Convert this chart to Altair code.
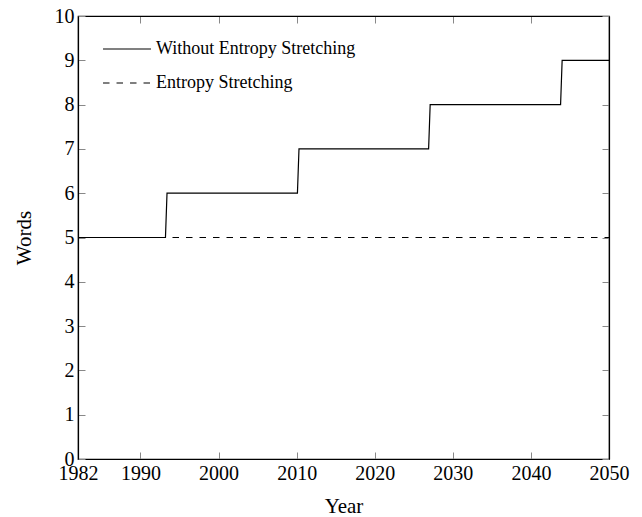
import altair as alt
import pandas as pd

series_names = ["Without Entropy Stretching", "Entropy Stretching"]
years_without = [1982, 1993.2, 1993.4, 2010.1, 2010.3, 2026.9, 2027.1, 2043.8, 2044.0, 2050]
words_without = [5, 5, 6, 6, 7, 7, 8, 8, 9, 9]
years_with = [1982, 2050]
words_with = [5, 5]

x_ticks = [1982, 1990, 2000, 2010, 2020, 2030, 2040, 2050]
y_ticks = list(range(0, 11))

rows = []
for i, (x, y) in enumerate(zip(years_without, words_without)):
    rows.append({"Year": x, "Words": y, "Series": series_names[0], "order": i})
for i, (x, y) in enumerate(zip(years_with, words_with)):
    rows.append({"Year": x, "Words": y, "Series": series_names[1], "order": i})
df = pd.DataFrame(rows)

FONT = "Liberation Serif"
INSIDE = alt.ExprRef(expr="-7")

x_scale = alt.Scale(domain=[1982, 2050], nice=False, zero=False)
y_scale = alt.Scale(domain=[0, 10], nice=False)

legend_args = dict(title=None, orient="none", legendX=24, legendY=8,
                   symbolType="stroke", symbolSize=2300, symbolStrokeWidth=1.2,
                   labelFontSize=18, labelFont=FONT, rowPadding=0,
                   labelLimit=400, labelOffset=4, labelColor="black")

lines = alt.Chart(df).mark_line(strokeWidth=1.2, clip=True).encode(
    x=alt.X("Year:Q", scale=x_scale,
            axis=alt.Axis(values=x_ticks, title="Year", format="d", grid=False,
                          tickSize=INSIDE, labelPadding=11, titlePadding=12)),
    y=alt.Y("Words:Q", scale=y_scale,
            axis=alt.Axis(values=y_ticks, title="Words", grid=False,
                          tickSize=INSIDE, labelPadding=11, titlePadding=20)),
    order="order:Q",
    color=alt.Color("Series:N", scale=alt.Scale(domain=series_names, range=["black", "black"]),
                    legend=alt.Legend(**legend_args)),
    strokeDash=alt.StrokeDash("Series:N",
                              scale=alt.Scale(domain=series_names, range=[[1, 0], [6.5, 7]]),
                              legend=alt.Legend(**legend_args)),
)

mirror = alt.Chart(pd.DataFrame({"Year": [1982], "Words": [0]})).mark_point(opacity=0).encode(
    x=alt.X("Year:Q", scale=x_scale,
            axis=alt.Axis(values=x_ticks, orient="top", labels=False, title=None, grid=False,
                          tickSize=INSIDE)),
    y=alt.Y("Words:Q", scale=y_scale,
            axis=alt.Axis(values=y_ticks, orient="right", labels=False, title=None, grid=False,
                          tickSize=INSIDE)),
)

chart = alt.layer(lines, mirror).resolve_axis(x="independent", y="independent").properties(
    width=531, height=443,
    autosize=alt.AutoSizeParams(type="none"),
    padding={"left": 70, "top": 8, "right": 25, "bottom": 57},
).configure_view(stroke="black", strokeWidth=1.2).configure_axis(
    domainColor="black", domainWidth=1.2, tickColor="#888888", tickWidth=1,
    labelFont=FONT, titleFont=FONT, labelFontSize=20, titleFontSize=21,
    labelColor="black", titleColor="black", titleFontWeight="normal",
    labelFlush=False,
)

chart.save("out.html", embed_options={"renderer": "svg", "actions": False})
